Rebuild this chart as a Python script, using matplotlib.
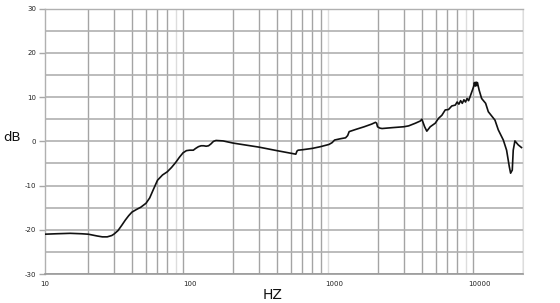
import matplotlib
matplotlib.use('Agg')
import matplotlib.pyplot as plt
from matplotlib.ticker import FixedLocator, LogLocator, MultipleLocator, NullFormatter

# Resposta em frequencia
freq = [10, 12, 15, 18, 20, 23, 25, 27, 29, 30, 32, 34, 36, 38, 40, 43, 46, 50,
        53, 56, 60, 65, 70, 75, 80, 85, 90, 95, 100, 106, 110, 115, 120, 125,
        130, 135, 140, 146, 152, 170, 200, 300, 400, 540, 550, 560, 600, 700,
        800, 914, 960, 1000, 1100, 1190, 1230, 1260, 1400, 1600, 1800, 1914,
        1950, 1977, 2050, 2124, 2500, 3000, 3242, 3605, 3900, 4000, 4178, 4326,
        4567, 4943, 5210, 5495, 5795, 6108, 6430, 6800, 7000, 7200, 7400, 7600,
        7800, 8000, 8200, 8400, 8600, 8929, 9100, 9212, 9350, 9462, 9560, 9660,
        9929, 10330, 11010, 11490, 12770, 13460, 14580, 15360, 16030, 16370,
        16810, 17070, 17530, 18480, 19460]
db = [-21.0, -20.9, -20.8, -20.9, -21.0, -21.4, -21.6, -21.6, -21.3, -21.0,
      -20.2, -19.0, -17.8, -16.8, -16.0, -15.4, -14.9, -14.0, -12.8, -11.0,
      -8.8, -7.6, -6.9, -5.9, -4.8, -3.6, -2.6, -2.1, -2.0, -2.0, -1.6, -1.2,
      -1.0, -1.0, -1.1, -1.0, -0.6, 0.0, 0.2, 0.1, -0.4, -1.3, -2.1, -2.9,
      -2.2, -2.0, -1.9, -1.6, -1.2, -0.7, -0.3, 0.3, 0.6, 0.8, 1.3, 2.2, 2.7,
      3.3, 3.9, 4.3, 4.1, 3.3, 3.0, 2.9, 3.1, 3.3, 3.5, 4.1, 4.6, 5.0, 3.3,
      2.3, 3.3, 4.1, 5.2, 5.9, 7.1, 7.2, 8.0, 8.2, 8.9, 8.4, 9.2, 8.6, 9.4,
      8.9, 9.7, 9.2, 10.1, 11.6, 12.4, 13.3, 12.5, 13.4, 12.6, 13.3, 11.6,
      9.7, 8.6, 6.7, 4.8, 2.6, 0.3, -2.0, -5.7, -7.2, -6.5, -2.0, 0.1, -0.8,
      -1.4]

x_ticks = [10, 100, 1000, 10000]
x_labels = ['10', '100', '1000', '10000']
y_ticks = [-30, -20, -10, 0, 10, 20, 30]
y_labels = ['-30', '-20', '-10', '0', '10', '20', '30']

fig = plt.figure(figsize=(5.6, 3.03), dpi=100)
ax = fig.add_axes([0.0798, 0.0957, 0.8545, 0.8756])

ax.plot(freq, db, color='#111111', lw=1.2, zorder=3)

ax.set_xscale('log')
ax.set_xlim(10, 20000)
ax.set_ylim(-30, 30)

# eixo x: rotulos nas decadas, grade so nas subdivisoes
ax.xaxis.set_major_locator(FixedLocator(x_ticks))
ax.set_xticklabels(x_labels)
ax.xaxis.set_minor_locator(LogLocator(base=10, subs=range(2, 10), numticks=20))
ax.xaxis.set_minor_formatter(NullFormatter())
ax.tick_params(axis='x', which='both', length=0, pad=5, labelsize=5, labelcolor='#222222')

# eixo y
ax.yaxis.set_major_locator(FixedLocator(y_ticks))
ax.set_yticklabels(y_labels)
ax.yaxis.set_minor_locator(MultipleLocator(5))
ax.tick_params(axis='y', which='major', length=4, width=1.0, color='#a8a8a8',
               pad=2, labelsize=5, labelcolor='#222222')
ax.tick_params(axis='y', which='minor', length=0)

ax.grid(False)
ax.grid(True, axis='x', which='minor', color='#a4a4a4', lw=1.0)
ax.grid(True, axis='y', which='both', color='#b0b0b0', lw=1.2)

# algumas linhas mais claras, como no original
locs = ax.xaxis.get_minorticklocs()
ticks = ax.xaxis.get_minor_ticks(len(locs))
for loc, t in zip(locs, ticks):
    if any(abs(loc - v) < 1e-6 * v for v in (80, 900, 8000)):
        t.gridline.set_color('#dddddd')

for side in ['top', 'left']:
    ax.spines[side].set_color('#b0b0b0')
    ax.spines[side].set_linewidth(1.0)
ax.spines['right'].set_color('#dddddd')
ax.spines['bottom'].set_color('#999999')
ax.spines['bottom'].set_linewidth(1.2)

fig.text(0.005, 0.545, 'dB', fontsize=9.5, color='#111111', va='center', ha='left')
fig.text(0.486, 0.027, 'HZ', fontsize=10, color='#111111', va='center', ha='center')

plt.savefig('out.png', dpi=100)
